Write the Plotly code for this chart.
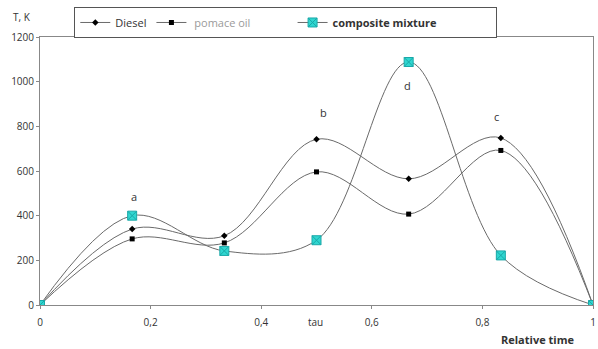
import plotly.graph_objects as go

x = [0, 1/6, 1/3, 1/2, 2/3, 5/6, 1]
diesel = [0, 340, 310, 742, 565, 748, 0]
pomace = [0, 296, 278, 596, 407, 692, 0]
composite = [0, 400, 242, 290, 1088, 222, 0]
xticks = [0, 0.2, 0.4, 0.6, 0.8, 1]
xticklabels = ["0", "0,2", "0,4", "0,6", "0,8", "1"]
yticks = [0, 200, 400, 600, 800, 1000, 1200]
labels = [("a", 0.170, 484), ("b", 0.512, 860), ("d", 0.664, 985), ("c", 0.826, 846)]

font = "Open Sans, Liberation Sans, sans-serif"
fig = go.Figure()
line = dict(color="#6a6a6a", width=1, shape="spline", smoothing=1.0)
fig.add_trace(go.Scatter(x=x, y=diesel, mode="lines+markers", name="Diesel",
                         line=line, marker=dict(symbol="diamond", size=5, color="black")))
fig.add_trace(go.Scatter(x=x, y=pomace, mode="lines+markers",
                         name="<span style='color:#9a9a9a'>\u00a0pomace oil</span>" + "\u00a0" * 13,
                         line=line, marker=dict(symbol="square", size=5, color="black")))
fig.add_trace(go.Scatter(x=x, y=composite, mode="lines+markers",
                         name="<b>composite mixture</b>" + "\u00a0" * 19,
                         line=line, marker=dict(symbol="square-x", size=9, color="#2fd6d0",
                                                line=dict(color="#1aa8a8", width=1))))

for t, xv, yv in labels:
    fig.add_annotation(x=xv, y=yv, text=t, showarrow=False, font=dict(size=11, color="#333333"))

fig.add_annotation(xref="paper", yref="paper", x=-0.033, y=1.075, text="T, K", showarrow=False,
                   font=dict(size=10, color="#333333"), xanchor="center", yanchor="middle")
fig.add_annotation(xref="paper", yref="paper", x=0.499, y=-0.065, text="tau", showarrow=False,
                   font=dict(size=10, color="#333333"), xanchor="center", yanchor="middle")
fig.add_annotation(xref="paper", yref="paper", x=0.90, y=-0.128, text="<b>Relative time</b>",
                   showarrow=False, font=dict(size=11, color="#333333"),
                   xanchor="center", yanchor="middle")

fig.update_layout(
    width=598, height=349,
    margin=dict(l=40, r=5, t=37, b=44, autoexpand=False),
    paper_bgcolor="white", plot_bgcolor="white",
    font=dict(family=font, size=10, color="#333333"),
    showlegend=True,
    legend=dict(orientation="h", x=0.062, y=1.112, xanchor="left", yanchor="top",
                bordercolor="#555555", borderwidth=1, font=dict(size=11),
                itemwidth=30, tracegroupgap=0),
    xaxis=dict(range=[0, 1], tickvals=xticks, ticktext=xticklabels, showgrid=False,
               zeroline=False, showline=True, linecolor="#888888", mirror=True,
               ticks="outside", ticklen=3, tickcolor="#888888", automargin=False,
               ticklabelstandoff=5),
    yaxis=dict(range=[0, 1200], tickvals=yticks, showgrid=False, zeroline=False,
               showline=True, linecolor="#888888", mirror=True,
               ticks="outside", ticklen=3, tickcolor="#888888", automargin=False),
)
fig.write_html("out.html", config={"displayModeBar": False},
               post_script="document.body.style.margin='0';document.body.style.overflow='hidden';")
